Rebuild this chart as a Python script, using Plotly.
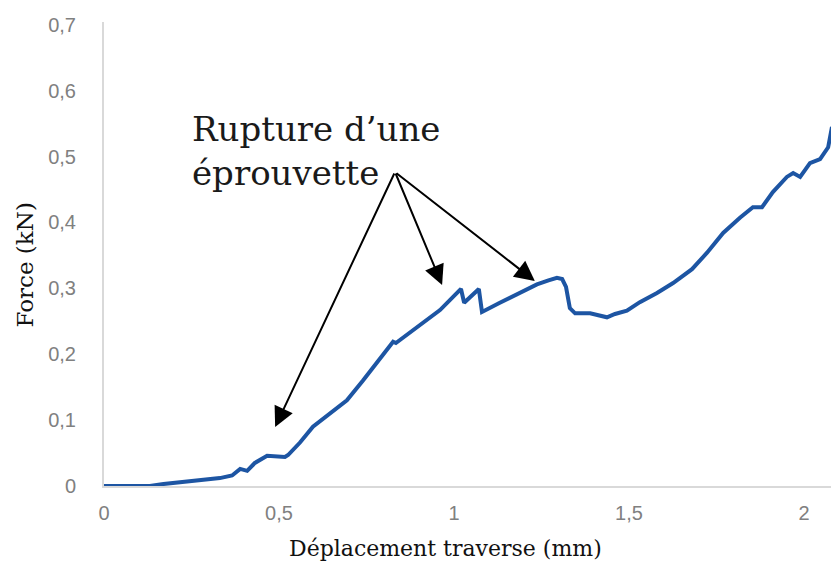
import plotly.graph_objects as go

# Force-displacement curve of the tensile test (crosshead displacement in mm, force in kN)
displacement_mm = [0.0, 0.131, 0.17, 0.22, 0.28, 0.331, 0.366, 0.389, 0.409, 0.431, 0.466, 0.517,
                   0.526, 0.56, 0.597, 0.65, 0.694, 0.74, 0.789, 0.826, 0.834, 0.883, 0.92,
                   0.96, 1.02, 1.029, 1.071, 1.08, 1.131, 1.189, 1.237, 1.27, 1.294, 1.309,
                   1.32, 1.331, 1.346, 1.389, 1.417, 1.437, 1.46, 1.494, 1.531, 1.58, 1.626,
                   1.68, 1.723, 1.769, 1.817, 1.854, 1.88, 1.911, 1.951, 1.969, 1.989, 2.017,
                   2.046, 2.069, 2.08]
force_kn = [0.0, 0.0, 0.003, 0.006, 0.009, 0.012, 0.016, 0.026, 0.023, 0.035, 0.046, 0.044,
            0.047, 0.066, 0.09, 0.111, 0.13, 0.16, 0.194, 0.219, 0.217, 0.237, 0.251,
            0.267, 0.299, 0.278, 0.299, 0.264, 0.278, 0.294, 0.306, 0.312, 0.316, 0.314,
            0.302, 0.27, 0.262, 0.262, 0.258, 0.256, 0.261, 0.266, 0.279, 0.293, 0.308,
            0.329, 0.354, 0.384, 0.407, 0.423, 0.423, 0.446, 0.469, 0.475, 0.469, 0.49,
            0.496, 0.514, 0.545]

x_tick_vals = [0, 0.5, 1, 1.5, 2]
x_tick_text = ["0", "0,5", "1", "1,5", "2"]
y_tick_vals = [0, 0.1, 0.2, 0.3, 0.4, 0.5, 0.6, 0.7]
y_tick_text = ["0", "0,1", "0,2", "0,3", "0,4", "0,5", "0,6", "0,7"]

# Points on the curve where a specimen breaks (x, y) and the label they share
rupture_points = [(0.489, 0.0895), (0.966, 0.305), (1.231, 0.311)]
label_text = "Rupture d\u2019une<br>éprouvette"

serif = "DejaVu Serif, Liberation Serif, serif"
tick_font = dict(family="Liberation Sans, Arial, sans-serif", size=20, color="#808080")

fig = go.Figure()
fig.add_trace(go.Scatter(
    x=displacement_mm, y=force_kn, mode="lines",
    line=dict(color="#1d55a3", width=4, shape="linear"),
    showlegend=False, hoverinfo="skip",
))

# Arrow tail position (pixels) shared by all arrows
tail_px = (395, 172)
x0_px, y0_px = 104, 486
px_per_x, px_per_y = 350.0, 659.0
for (xd, yd) in rupture_points:
    tip_x = x0_px + xd * px_per_x
    tip_y = y0_px - yd * px_per_y
    fig.add_annotation(
        x=xd, y=yd, xref="x", yref="y", text="",
        showarrow=True, arrowhead=2, arrowsize=2.0, arrowwidth=2,
        arrowcolor="black", standoff=0,
        ax=tail_px[0] - tip_x, ay=tail_px[1] - tip_y,
    )

fig.add_annotation(
    x=0.246, y=0.575, xref="x", yref="y", xanchor="left", yanchor="top",
    text=label_text, showarrow=False, align="left",
    font=dict(family=serif, size=34, color="#1a1a1a"),
)

fig.add_annotation(
    x=(445 - 104) / 727, y=(486 - 548) / 464, xref="paper", yref="paper",
    xanchor="center", yanchor="middle", showarrow=False,
    text="Déplacement traverse (mm)",
    font=dict(family=serif, size=22, color="#111111"),
)
fig.add_annotation(
    x=-0.108, y=(486 - 265) / 464, xref="paper", yref="paper",
    xanchor="center", yanchor="middle", showarrow=False, textangle=-90,
    text="Force (kN)",
    font=dict(family=serif, size=23, color="#111111"),
)

fig.update_layout(
    width=831, height=564,
    margin=dict(l=104, r=0, t=22, b=78),
    plot_bgcolor="white", paper_bgcolor="white",
    xaxis=dict(
        range=[0, 727 / 350], tickvals=x_tick_vals, ticktext=x_tick_text,
        showgrid=False, zeroline=False, showline=True, linecolor="#d9d9d9", linewidth=2,
        ticks="", tickfont=tick_font, ticklabelstandoff=8,
    ),
    yaxis=dict(
        range=[0, 464 / 659], tickvals=y_tick_vals, ticktext=y_tick_text,
        showgrid=False, zeroline=False, showline=True, linecolor="#d9d9d9", linewidth=2,
        ticks="", tickfont=tick_font, ticklabelstandoff=22,
    ),
)

fig.write_html("out.html")
